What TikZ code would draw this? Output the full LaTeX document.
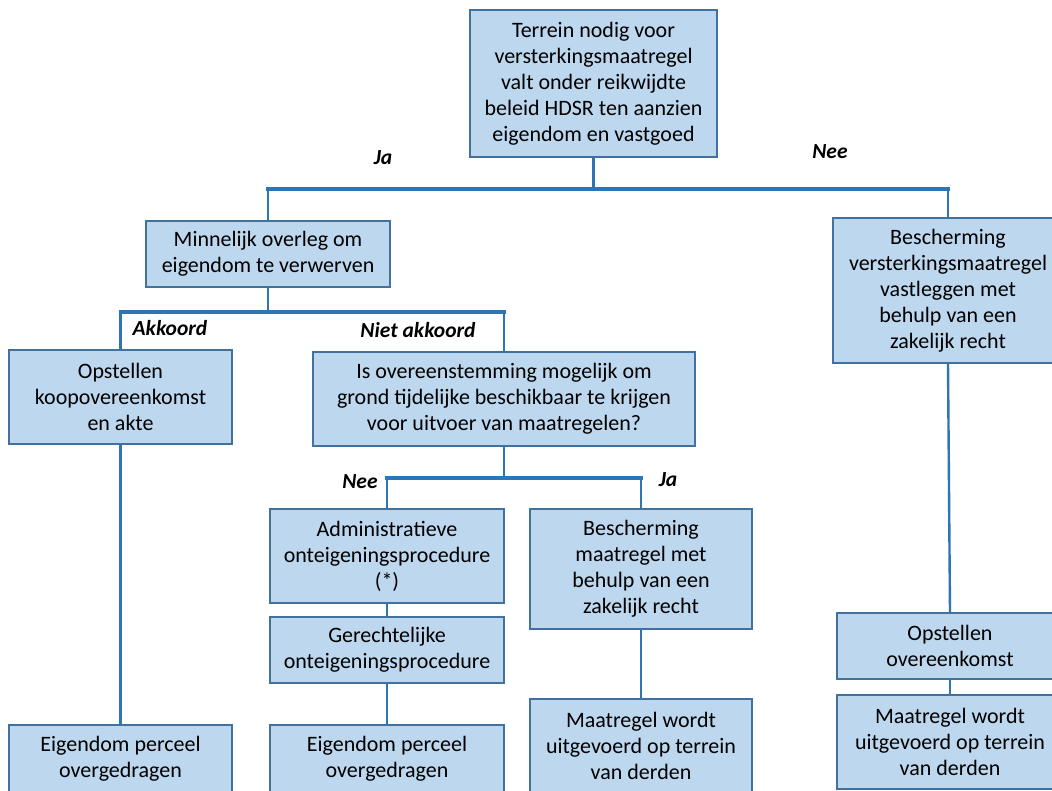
\documentclass[tikz,border=0pt]{standalone}
\usepackage{fontspec}
\setmainfont{Carlito}
\begin{document}
\begin{tikzpicture}[x=1pt,y=-1pt,
  box/.style={draw=boxline, fill=boxfill, line width=2pt, align=center, inner sep=0pt,
     font=\fontsize{22}{26}\selectfont},
  lbl/.style={font=\fontsize{21.5}{26}\selectfont\bfseries\itshape, inner sep=0pt},
  vline/.style={draw=conn, line width=2.4pt},
  hbar/.style={draw=conn, line width=4pt, line cap=rect}]
\definecolor{boxfill}{HTML}{BDD7EE}
\definecolor{boxline}{HTML}{41719C}
\definecolor{conn}{HTML}{2E75B6}
\useasboundingbox (0,0) rectangle (1052,791);
\clip (0,0) rectangle (1052,791);
\fill[white] (0,0) rectangle (1052,791);

% boxes
\node[box, minimum width=247pt, minimum height=147pt] (top) at (593.5,83.5)
  {Terrein nodig voor\\versterkingsmaatregel\\valt onder reikwijdte\\beleid HDSR ten aanzien\\eigendom en vastgoed};
\node[box, minimum width=244pt, minimum height=66pt] (min) at (268,254)
  {Minnelijk overleg om\\eigendom te verwerven};
\node[box, minimum width=230pt, minimum height=145pt] (bes) at (948,290.5)
  {Bescherming\\versterkingsmaatregel\\vastleggen met\\behulp van een\\zakelijk recht};
\node[box, minimum width=223pt, minimum height=94pt] (ops) at (120.5,397)
  {Opstellen\\koopovereenkomst\\en akte};
\node[box, minimum width=382pt, minimum height=94pt] (iso) at (504,399)
  {Is overeenstemming mogelijk om\\grond tijdelijke beschikbaar te krijgen\\voor uitvoer van maatregelen?};
\node[box, minimum width=234pt, minimum height=94pt] (adm) at (387,556)
  {Administratieve\\onteigeningsprocedure\\(*)};
\node[box, minimum width=234pt, minimum height=66pt] (ger) at (387,650)
  {Gerechtelijke\\onteigeningsprocedure};
\node[box, minimum width=222pt, minimum height=120pt] (bm) at (641,569)
  {Bescherming\\maatregel met\\behulp van een\\zakelijk recht};
\node[box, minimum width=223pt, minimum height=68pt] (eig1) at (120.5,759)
  {Eigendom perceel\\overgedragen};
\node[box, minimum width=234pt, minimum height=68pt] (eig2) at (387,759)
  {Eigendom perceel\\overgedragen};
\node[box, minimum width=222pt, minimum height=94pt] (mw1) at (641,746)
  {Maatregel wordt\\uitgevoerd op terrein\\van derden};
\node[box, minimum width=226pt, minimum height=66pt] (oo) at (950,646)
  {Opstellen\\overeenkomst};
\node[box, minimum width=226pt, minimum height=94pt] (mw2) at (950,742)
  {Maatregel wordt\\uitgevoerd op terrein\\van derden};

% junctions
\path (top.south) ++(0,31) coordinate (j1);
\path (min.south) ++(0,24) coordinate (j2);
\path (iso.south) ++(0,31) coordinate (j3);

% connectors
\draw[vline] (top.south) -- (j1);
\draw[vline] (j1) -| (min.north);
\draw[vline] (j1) -| (bes.north);
\draw[hbar] (min.north |- j1) -- (bes.north |- j1);

\draw[vline] (min.south) -- (j2);
\draw[vline] (j2) -| (ops.north);
\draw[vline] (j2) -| (iso.north);
\draw[hbar] (ops.north |- j2) -- (iso.north |- j2);

\draw[vline] (iso.south) -- (j3);
\draw[vline] (j3) -| (adm.north);
\draw[vline] (j3) -| (bm.north);
\draw[hbar] (adm.north |- j3) -- (bm.north |- j3);

\draw[vline] (ops.south) -- (eig1.north);
\draw[vline] (adm.south) -- (ger.north);
\draw[vline] (ger.south) -- (eig2.north);
\draw[vline] (bm.south) -- (mw1.north);
\draw[vline] (bes.south) -- (oo.north);
\draw[vline] (oo.south) -- (mw2.north);

% labels
\node[lbl] (lja1) at (383,158) {Ja};
\node[lbl] (lnee1) at (830,152) {Nee};
\node[lbl] (lakk) at (170,328) {Akkoord};
\node[lbl] (lniet) at (418,330) {Niet akkoord};
\node[lbl] (lnee2) at (360,482) {Nee};
\node[lbl] (lja2) at (668,480) {Ja};
\end{tikzpicture}
\end{document}
